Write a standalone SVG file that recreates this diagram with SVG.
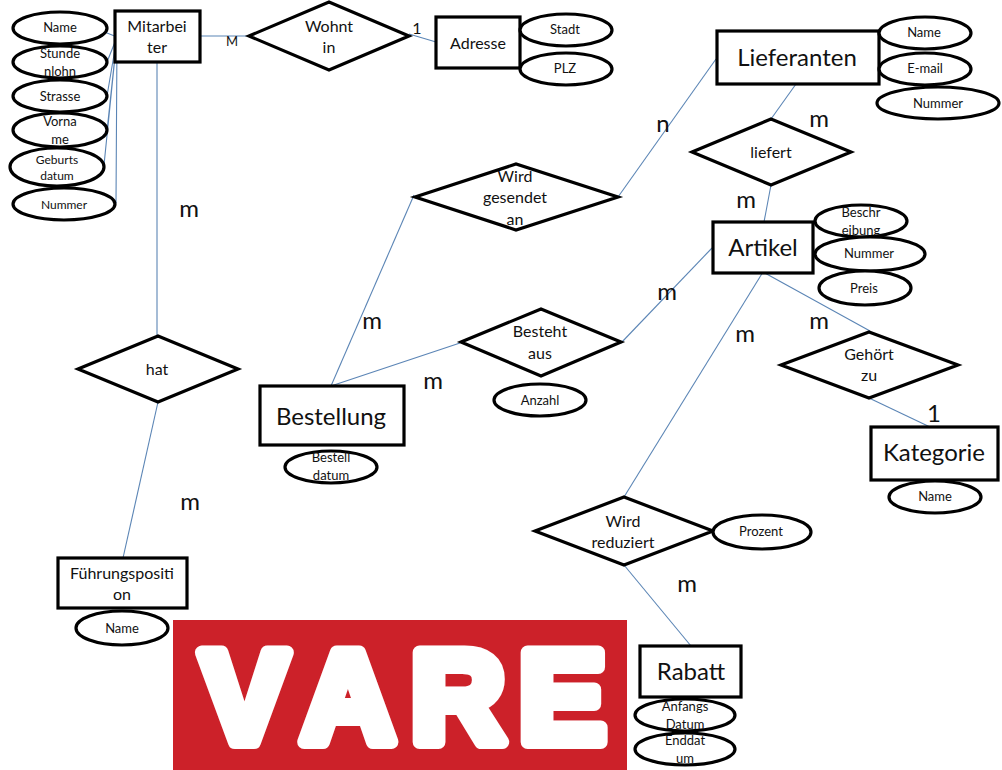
<svg xmlns="http://www.w3.org/2000/svg" width="1002" height="770" viewBox="0 0 1002 770">
<style>
text{font-family:"Lato","Noto Sans","Liberation Sans",sans-serif;fill:#111;text-anchor:middle}
.e{fill:#fff;stroke:#000;stroke-width:3.2}
.b{fill:#fff;stroke:#000;stroke-width:3.2}
.d{fill:#fff;stroke:#000;stroke-width:3.2;stroke-linejoin:miter}
.c{fill:none;stroke:#5b85b5;stroke-width:1.1}
.s{font-size:13px}.m{font-size:16px}.l{font-size:24px}.x{font-size:24px}
</style>
<rect width="1002" height="770" fill="#fff"/>
<g id="connectors" class="c">
<path d="M107 33L117 37M107 62L117 37M107 96L117 37M107 131L117 37M104 165L117 37M116 203L117 37"/>
<path d="M200 36H268"/><path d="M409 34L436 42"/>
<path d="M157 62V336"/><path d="M158 402L123 558"/>
<path d="M618 197L716 59"/><path d="M796 84L771 119"/><path d="M771 185L764 222"/>
<path d="M414 195L331 386"/><path d="M460 343L331 386"/><path d="M621 343L712 248"/>
<path d="M763 272L624 497"/><path d="M763 272L870 331"/><path d="M869 398L930 427"/>
<path d="M624 565L691 646"/>
</g>
<g id="vare-logo">
<rect x="173" y="620" width="454" height="150" fill="#cc2129"/>
<text x="201 301 411 519" y="742" style="font-family:'Liberation Sans',sans-serif;font-weight:700;font-size:130px;fill:#fff;stroke:#fff;stroke-width:14;stroke-linejoin:round;text-anchor:start">VARE</text>
</g>
<g id="n-name"><ellipse class="e" cx="60" cy="28" rx="47" ry="16"/><text class="s" x="60" y="32">Name</text></g>
<g id="n-stundenlohn"><ellipse class="e" cx="60" cy="62" rx="47" ry="16"/><text class="s" x="60" y="58">Stunde</text><text class="s" x="60" y="76">nlohn</text></g>
<g id="n-strasse"><ellipse class="e" cx="60" cy="96" rx="47" ry="16"/><text class="s" x="60" y="101">Strasse</text></g>
<g id="n-vorname"><ellipse class="e" cx="60" cy="130" rx="47" ry="17"/><text class="s" x="60" y="126">Vorna</text><text class="s" x="60" y="144">me</text></g>
<g id="n-geburtsdatum"><ellipse class="e" cx="57" cy="167" rx="47" ry="19"/><text class="s" style="font-size:12px" x="57" y="164">Geburts</text><text class="s" style="font-size:12px" x="57" y="180">datum</text></g>
<g id="n-nummer-m"><ellipse class="e" cx="64" cy="204" rx="51" ry="16"/><text class="s" style="font-size:12px" x="64" y="209">Nummer</text></g>
<g id="n-mitarbeiter"><rect class="b" x="115" y="11" width="85" height="51"/><text class="m" x="157" y="32">Mitarbei</text><text class="m" x="157" y="53">ter</text></g>
<g id="n-wohnt"><polygon class="d" points="249,36 329,2 409,36 329,70"/><text class="m" x="329" y="32">Wohnt</text><text class="m" x="329" y="53">in</text></g>
<g id="n-adresse"><rect class="b" x="436" y="17" width="84" height="51"/><text class="m" x="478" y="49">Adresse</text></g>
<g id="n-stadt"><ellipse class="e" cx="566" cy="30" rx="46" ry="16"/><text class="s" x="565" y="34">Stadt</text></g>
<g id="n-plz"><ellipse class="e" cx="566" cy="69" rx="46" ry="16"/><text class="s" x="565" y="73">PLZ</text></g>
<g id="n-lieferanten"><rect class="b" x="717" y="31" width="162" height="53"/><text class="x" x="797" y="66">Lieferanten</text></g>
<g id="n-name-l"><ellipse class="e" cx="925" cy="33" rx="46" ry="16"/><text class="s" x="924" y="37">Name</text></g>
<g id="n-email"><ellipse class="e" cx="925" cy="69" rx="46" ry="16"/><text class="s" x="925" y="73">E-mail</text></g>
<g id="n-nummer-l"><ellipse class="e" cx="938" cy="103" rx="61" ry="16"/><text class="s" x="938" y="108">Nummer</text></g>
<g id="n-liefert"><polygon class="d" points="692,152 771,119 851,152 771,185"/><text class="m" x="771" y="158">liefert</text></g>
<g id="n-wird-an"><polygon class="d" points="415,197 516,164 618,197 516,230"/><text class="m" x="515" y="182">Wird</text><text class="m" x="515" y="203">gesendet</text><text class="m" x="515" y="225">an</text></g>
<g id="n-artikel"><rect class="b" x="713" y="222" width="100" height="51"/><text class="x" x="763" y="256">Artikel</text></g>
<g id="n-beschreibung"><ellipse class="e" cx="861" cy="221" rx="46" ry="16"/><text class="s" x="861" y="217">Beschr</text><text class="s" x="861" y="235">eibung</text></g>
<g id="n-nummer-a"><ellipse class="e" cx="870" cy="254" rx="55" ry="17"/><text class="s" x="869" y="258">Nummer</text></g>
<g id="n-preis"><ellipse class="e" cx="865" cy="288" rx="46" ry="17"/><text class="s" x="864" y="293">Preis</text></g>
<g id="n-besteht"><polygon class="d" points="461,342 541,309 621,342 541,376"/><text class="m" x="540" y="337">Besteht</text><text class="m" x="540" y="359">aus</text></g>
<g id="n-anzahl"><ellipse class="e" cx="540" cy="400" rx="46" ry="16"/><text class="s" x="540" y="405">Anzahl</text></g>
<g id="n-bestellung"><rect class="b" x="260" y="386" width="144" height="59"/><text class="x" x="331" y="425">Bestellung</text></g>
<g id="n-bestelldatum"><ellipse class="e" cx="331" cy="467" rx="46" ry="16"/><text class="s" x="331" y="462">Bestell</text><text class="s" x="331" y="480">datum</text></g>
<g id="n-hat"><polygon class="d" points="78,369 158,336 238,369 158,402"/><text class="m" x="157" y="375">hat</text></g>
<g id="n-fuehrung"><rect class="b" x="58" y="558" width="129" height="50"/><text class="m" x="122" y="579">Führungspositi</text><text class="m" x="122" y="600">on</text></g>
<g id="n-name-f"><ellipse class="e" cx="122" cy="628" rx="46" ry="17"/><text class="s" x="122" y="633">Name</text></g>
<g id="n-gehoert"><polygon class="d" points="781,365 869,332 958,365 869,398"/><text class="m" x="869" y="360">Gehört</text><text class="m" x="869" y="381">zu</text></g>
<g id="n-kategorie"><rect class="b" x="871" y="427" width="127" height="53"/><text class="x" x="934" y="461">Kategorie</text></g>
<g id="n-name-k"><ellipse class="e" cx="935" cy="497" rx="46" ry="16"/><text class="s" x="935" y="501">Name</text></g>
<g id="n-reduziert"><polygon class="d" points="535,531 624,497 713,531 624,565"/><text class="m" x="623" y="527">Wird</text><text class="m" x="623" y="548">reduziert</text></g>
<g id="n-prozent"><ellipse class="e" cx="762" cy="532" rx="49" ry="17"/><text class="s" x="761" y="536">Prozent</text></g>
<g id="n-rabatt"><rect class="b" x="640" y="646" width="101" height="51"/><text class="x" x="691" y="680">Rabatt</text></g>
<g id="n-anfangsdatum"><ellipse class="e" cx="685" cy="715" rx="50" ry="16"/><text class="s" x="685" y="711">Anfangs</text><text class="s" x="685" y="729">Datum</text></g>
<g id="n-enddatum"><ellipse class="e" cx="685" cy="749" rx="50" ry="16"/><text class="s" x="685" y="745">Enddat</text><text class="s" x="685" y="763">um</text></g>
<g id="labels">
<text class="s" x="232" y="46">M</text>
<text class="m" x="417" y="34">1</text>
<text class="x" x="189" y="217">m</text>
<text class="x" x="190" y="510">m</text>
<text class="x" x="663" y="132">n</text>
<text class="x" x="819" y="127">m</text>
<text class="x" x="746" y="208">m</text>
<text class="x" x="667" y="300">m</text>
<text class="x" x="372" y="329">m</text>
<text class="x" x="433" y="389">m</text>
<text class="x" x="745" y="342">m</text>
<text class="x" x="819" y="329">m</text>
<text class="x" x="934" y="422">1</text>
<text class="x" x="687" y="592">m</text>
</g>
</svg>
